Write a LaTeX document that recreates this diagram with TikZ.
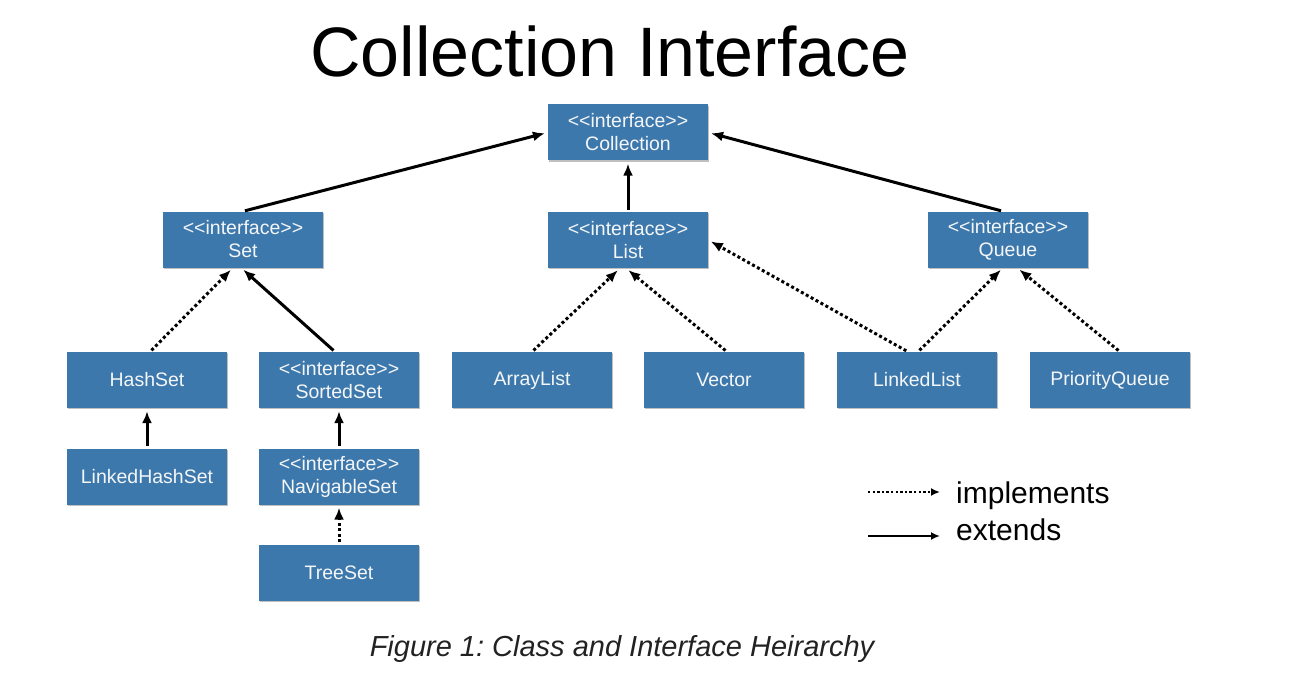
\documentclass[tikz,border=0pt]{standalone}
\usepackage{fontspec}
\setmainfont{Liberation Sans}
\usetikzlibrary{arrows.meta,shadows}
\definecolor{boxblue}{HTML}{3D78AC}
\definecolor{boxtext}{HTML}{F4F6F8}
\definecolor{captiongray}{HTML}{222222}
\frenchspacing
\tikzset{
  cls/.style={fill=boxblue, text=boxtext, minimum width=160pt, minimum height=56pt,
    inner sep=0pt, align=center, font=\fontsize{19.5}{23}\selectfont,
    drop shadow={shadow xshift=1.3pt, shadow yshift=-1.3pt, fill=black, opacity=0.25}},
  ext/.style={line width=3pt, -{Latex[length=12pt,width=10pt]}, shorten >=3pt, shorten <=2pt},
  impl/.style={line width=3pt, dash pattern=on 3pt off 2.6pt, -{Latex[length=12pt,width=10pt]}, shorten >=3pt, shorten <=2pt},
  legext/.style={line width=2.4pt, -{Latex[length=9pt,width=8pt]}},
  legimpl/.style={line width=2.4pt, dash pattern=on 2.4pt off 2.2pt, -{Latex[length=9pt,width=8pt]}},
  legtext/.style={anchor=base west, font=\fontsize{30}{36}\selectfont, inner sep=0pt},
}
\begin{document}
\begin{tikzpicture}[x=1pt,y=-1pt]
\useasboundingbox (0,0) rectangle (1294,682);
% title and caption
\node[font=\fontsize{70}{80}\selectfont, anchor=base, inner sep=0pt] (title) at (610,77) {Collection Interface};
\node[font=\fontsize{29}{34}\selectfont\itshape, text=captiongray, anchor=base, inner sep=0pt] (caption) at (622,656) {Figure 1: Class and Interface Heirarchy};
% nodes
\node[cls] (coll) at (628,132.5) {<{}<interface>{}>\\Collection};
\node[cls] (set) at (243,239.5) {<{}<interface>{}>\\Set};
\node[cls] (list) at (628,240) {<{}<interface>{}>\\List};
\node[cls] (queue) at (1008,239.5) {<{}<interface>{}>\\Queue};
\node[cls] (hashset) at (147,380) {HashSet};
\node[cls] (sortedset) at (339,380) {<{}<interface>{}>\\SortedSet};
\node[cls] (arraylist) at (532,380) {ArrayList};
\node[cls] (vector) at (724,380) {Vector};
\node[cls] (linkedlist) at (917,380) {LinkedList};
\node[cls] (pqueue) at (1110,380) {PriorityQueue};
\node[cls] (lhashset) at (147,476.5) {LinkedHashSet};
\node[cls] (navset) at (339,476.5) {<{}<interface>{}>\\NavigableSet};
\node[cls] (treeset) at (339,572.5) {TreeSet};
% connectors
\draw[ext] (set.north) -- (coll.west);
\draw[ext] ([xshift=-5pt]queue.north) -- (coll.east);
\draw[ext] (list.north) -- (coll.south);
\draw[impl] ([xshift=3pt]hashset.north) -- ([xshift=-10pt]set.south);
\draw[ext] ([xshift=-4pt]sortedset.north) -- ([xshift=-2pt]set.south);
\draw[impl] (arraylist.north) -- ([xshift=-8pt]list.south);
\draw[impl] ([xshift=3pt]vector.north) -- ([xshift=-2pt]list.south);
\draw[impl] ([xshift=-9pt]linkedlist.north) -- (list.east);
\draw[impl] ([xshift=1pt]linkedlist.north) -- ([xshift=-5pt]queue.south);
\draw[impl] ([xshift=10pt]pqueue.north) -- ([xshift=9pt]queue.south);
\draw[ext] (lhashset.north) -- (hashset.south);
\draw[ext] (navset.north) -- (sortedset.south);
\draw[impl] (treeset.north) -- (navset.south);
% legend
\coordinate (li1) at (868,492);
\coordinate (li2) at (940,492);
\coordinate (le1) at (868,536);
\coordinate (le2) at (940,536);
\draw[legimpl] (li1) -- (li2);
\draw[legext] (le1) -- (le2);
\node[legtext] (limpl) at (956,503) {implements};
\node[legtext] (lext) at (956,540) {extends};
\end{tikzpicture}
\end{document}
